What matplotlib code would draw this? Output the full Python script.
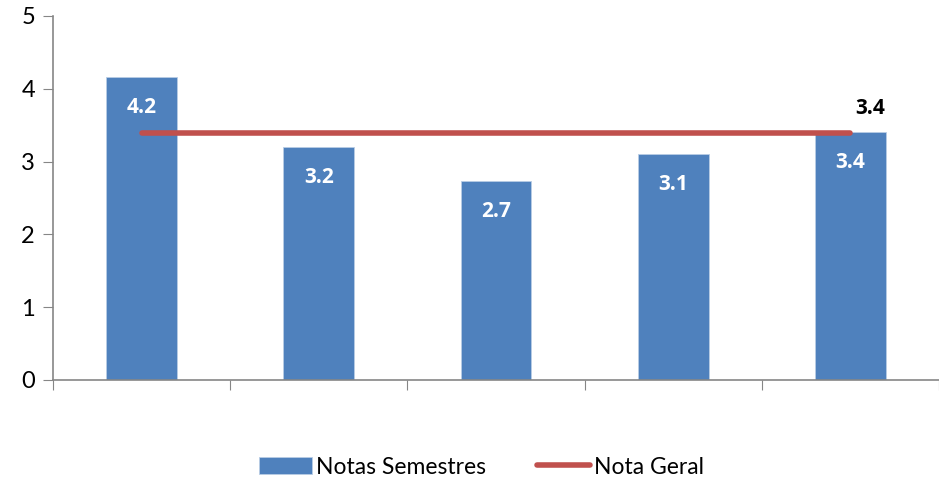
import matplotlib
matplotlib.use("Agg")
import matplotlib.pyplot as plt
import numpy as np

# chart data
categories = ["S1", "S2", "S3", "S4", "S5"]
notas_semestres = [4.16, 3.20, 2.73, 3.10, 3.41]
labels_semestres = ["4.2", "3.2", "2.7", "3.1", "3.4"]
nota_geral = [3.39, 3.39, 3.39, 3.39, 3.39]
label_geral = "3.4"

BLUE = "#4F81BD"
RED = "#C0504D"
GRAY = "#868686"

plt.rcParams["font.family"] = ["Lato", "DejaVu Sans"]
BOLD_FONT = ["Open Sans", "DejaVu Sans"]

fig = plt.figure(figsize=(9.39, 4.84), dpi=100)
ax = fig.add_axes([53 / 939, 1 - 380 / 484, 886 / 939, 364 / 484])

x = np.arange(len(categories))
bars = ax.bar(x, notas_semestres, width=0.4, color=BLUE, edgecolor="#B9CDE5",
              linewidth=0.6, label="Notas Semestres", zorder=2)
line, = ax.plot(x, nota_geral, color=RED, linewidth=4, solid_capstyle="round",
                label="Nota Geral", zorder=3)

for xi, v, lab in zip(x, notas_semestres, labels_semestres):
    ax.annotate(lab, (xi, v), xytext=(0, -22), textcoords="offset points",
                ha="center", va="center", color="white", fontsize=15,
                fontweight="bold", family=BOLD_FONT, zorder=4)
ax.annotate(label_geral, (x[-1], nota_geral[-1]), xytext=(14, 18),
            textcoords="offset points", ha="center", va="center",
            color="black", fontsize=15, fontweight="bold", family=BOLD_FONT,
            zorder=4)

ax.set_ylim(0, 5)
ax.set_xlim(-0.5, -0.5 + 886 / 178)
ax.set_yticks(range(6))
ax.set_xticks(np.arange(-0.5, 5.0, 1.0))
ax.set_xticklabels([])
ax.tick_params(axis="y", labelsize=17, length=7, color=GRAY, pad=6)
ax.tick_params(axis="x", length=7, color=GRAY)

for s in ["top", "right"]:
    ax.spines[s].set_visible(False)
for s in ["left", "bottom"]:
    ax.spines[s].set_color(GRAY)
    ax.spines[s].set_linewidth(1.2)

fig.legend([bars, line], ["Notas Semestres", "Nota Geral"], loc="center",
           bbox_to_anchor=(0.513, 1 - 467 / 484), ncol=2, frameon=False,
           fontsize=16.5, handlelength=2.3, handletextpad=0.2,
           columnspacing=2.2)

fig.savefig("out.png", dpi=100)
